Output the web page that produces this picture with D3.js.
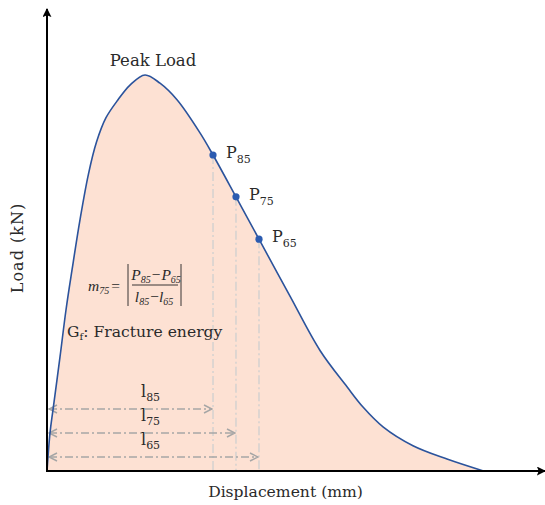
<!DOCTYPE html>
<html>
<head>
<meta charset="utf-8">
<script src="https://cdn.jsdelivr.net/npm/d3@7"></script>
<style>
  body { margin: 0; background: #fff; }
  svg { display: block; }
  text { font-family: "DejaVu Serif", "Liberation Serif", serif; fill: #2a2a2a; }
  .math text { font-family: "Liberation Serif", "DejaVu Serif", serif; font-style: italic; }
</style>
</head>
<body>
<svg width="545" height="505"></svg>
<script>
// load-displacement curve (mm, kN)
var displacement = [0, 0.067, 0.133, 0.289, 0.422, 0.556, 0.733, 0.92, 1.1, 1.311, 1.578, 1.844, 2.178,
                    2.511, 2.889, 3.4, 3.689, 4.2, 4.711, 5.4, 6.067, 6.667, 7.022, 7.467, 8.133, 8.889, 9.7];
var load = [0, 0.83, 1.33, 2.48, 3.5, 4.37, 5.46, 6.45, 7.15, 7.68, 8.07, 8.39, 8.61,
            8.43, 8.07, 7.35, 6.87, 5.96, 5.04, 3.8, 2.62, 1.83, 1.39, 0.96, 0.55, 0.26, 0.0];

// post-peak points
var pointNames = ["85", "75", "65"];
var pointDisp = [3.689, 4.2, 4.711];
var pointLoad = [6.87, 5.96, 5.04];

var svg = d3.select("svg"),
    W = +svg.attr("width"),
    H = +svg.attr("height");

var x = d3.scaleLinear().domain([0, 11]).range([47, 542]),
    y = d3.scaleLinear().domain([0, 10]).range([471, 11]);

var data = displacement.map(function(d, i) { return {d: d, p: load[i]}; });

var defs = svg.append("defs");
defs.append("marker")
    .attr("id", "axisArrow")
    .attr("viewBox", "0 0 10 10")
    .attr("refX", 9).attr("refY", 5)
    .attr("markerWidth", 9).attr("markerHeight", 9)
    .attr("markerUnits", "userSpaceOnUse")
    .attr("orient", "auto")
    .append("path")
    .attr("d", "M0,0 L10,5 L0,10 L2,5 Z")
    .attr("fill", "#000");

defs.append("marker")
    .attr("id", "dimArrow")
    .attr("viewBox", "0 0 10 10")
    .attr("refX", 9).attr("refY", 5)
    .attr("markerWidth", 10).attr("markerHeight", 10)
    .attr("markerUnits", "userSpaceOnUse")
    .attr("orient", "auto-start-reverse")
    .append("path")
    .attr("d", "M1,1 L9,5 L1,9")
    .attr("fill", "none")
    .attr("stroke", "#a6a6a6")
    .attr("stroke-width", 1.5);

var curve = d3.curveCatmullRom.alpha(0.5);

// filled area under curve
var area = d3.area()
    .curve(curve)
    .x(function(d) { return x(d.d); })
    .y0(y(0))
    .y1(function(d) { return y(d.p); });

var line = d3.line()
    .curve(curve)
    .x(function(d) { return x(d.d); })
    .y(function(d) { return y(d.p); });

svg.append("path")
    .datum(data)
    .attr("d", area)
    .attr("fill", "#fde1d3");

// vertical drop lines from P points
svg.selectAll(".drop")
    .data(pointDisp)
    .enter().append("line")
    .attr("class", "drop")
    .attr("x1", function(d) { return x(d); })
    .attr("x2", function(d) { return x(d); })
    .attr("y1", function(d, i) { return y(pointLoad[i]); })
    .attr("y2", y(0))
    .attr("stroke", "#cfcfcf")
    .attr("stroke-width", 1.3)
    .attr("stroke-dasharray", "9,3,2,3");

// dimension arrows l85, l75, l65
var dimY = [409, 433, 457];
svg.selectAll(".dim")
    .data(pointDisp)
    .enter().append("line")
    .attr("class", "dim")
    .attr("x1", x(0) + 2)
    .attr("x2", function(d) { return x(d) - 1; })
    .attr("y1", function(d, i) { return dimY[i]; })
    .attr("y2", function(d, i) { return dimY[i]; })
    .attr("stroke", "#a6a6a6")
    .attr("stroke-width", 1.5)
    .attr("stroke-dasharray", "8,3,2,3")
    .attr("marker-start", "url(#dimArrow)")
    .attr("marker-end", "url(#dimArrow)");

var dimLabels = svg.selectAll(".dimlab")
    .data(pointNames)
    .enter().append("text")
    .attr("class", "dimlab")
    .attr("x", 141)
    .attr("y", function(d, i) { return dimY[i] - 12; })
    .attr("font-size", 16);
dimLabels.append("tspan").text("l");
dimLabels.append("tspan").attr("dy", 4).attr("font-size", 11).text(function(d) { return d; });

// the curve
svg.append("path")
    .datum(data)
    .attr("d", line)
    .attr("fill", "none")
    .attr("stroke", "#2b539c")
    .attr("stroke-width", 1.6);

// axes with arrows
svg.append("line")
    .attr("x1", x(0)).attr("x2", x(0))
    .attr("y1", y(0) + 1).attr("y2", 9)
    .attr("stroke", "#000").attr("stroke-width", 2)
    .attr("marker-end", "url(#axisArrow)");
svg.append("line")
    .attr("x1", x(0) - 1).attr("x2", W)
    .attr("y1", y(0)).attr("y2", y(0))
    .attr("stroke", "#000").attr("stroke-width", 2)
    .attr("marker-end", "url(#axisArrow)");

// P points
svg.selectAll(".pt")
    .data(pointDisp)
    .enter().append("circle")
    .attr("class", "pt")
    .attr("cx", function(d) { return x(d); })
    .attr("cy", function(d, i) { return y(pointLoad[i]); })
    .attr("r", 3.6)
    .attr("fill", "#2b5bb0");

var pLabels = svg.selectAll(".plab")
    .data(pointNames)
    .enter().append("text")
    .attr("class", "plab")
    .attr("x", function(d, i) { return x(pointDisp[i]) + 13; })
    .attr("y", function(d, i) { return y(pointLoad[i]) + 3; })
    .attr("font-size", 16);
pLabels.append("tspan").text("P");
pLabels.append("tspan").attr("dy", 5).attr("font-size", 11).text(function(d) { return d; });

// Peak Load label
svg.append("text")
    .attr("x", x(displacement[load.indexOf(d3.max(load))]) + 8)
    .attr("y", y(d3.max(load)) - 9)
    .attr("text-anchor", "middle")
    .attr("font-size", 16.5)
    .text("Peak Load");

// axis titles
svg.append("text")
    .attr("x", (208 + 363) / 2)
    .attr("y", 497)
    .attr("text-anchor", "middle")
    .attr("font-size", 15.6)
    .text("Displacement (mm)");

svg.append("text")
    .attr("transform", "translate(23,248) rotate(-90)")
    .attr("text-anchor", "middle")
    .attr("font-size", 16)
    .attr("letter-spacing", 1)
    .text("Load (kN)");

// formula m75 = |(P85 - P65)/(l85 - l65)|
var f = svg.append("g").attr("class", "math").attr("font-size", 15.5);
var m = f.append("text").attr("x", 88).attr("y", 291);
m.append("tspan").text("m");
m.append("tspan").attr("dy", 3).attr("font-size", 10).text("75");
m.append("tspan").attr("dy", -3).attr("dx", 2).style("font-style", "normal").text("=");

var num = f.append("text").attr("x", 156).attr("y", 280).attr("text-anchor", "middle");
num.append("tspan").text("P");
num.append("tspan").attr("dy", 3).attr("font-size", 10).text("85");
num.append("tspan").attr("dy", -3).attr("dx", 1).style("font-style", "normal").text("\u2212");
num.append("tspan").attr("dx", 1).text("P");
num.append("tspan").attr("dy", 3).attr("font-size", 10).text("65");

var den = f.append("text").attr("x", 154).attr("y", 302).attr("text-anchor", "middle");
den.append("tspan").text("l");
den.append("tspan").attr("dy", 3).attr("font-size", 10).text("85");
den.append("tspan").attr("dy", -3).attr("dx", 1).style("font-style", "normal").text("\u2212");
den.append("tspan").text("l");
den.append("tspan").attr("dy", 3).attr("font-size", 10).text("65");

f.append("line").attr("x1", 132).attr("x2", 178).attr("y1", 285).attr("y2", 285)
    .attr("stroke", "#222").attr("stroke-width", 0.9);
[128, 181].forEach(function(bx) {
  f.append("line").attr("x1", bx).attr("x2", bx).attr("y1", 264).attr("y2", 306)
      .attr("stroke", "#222").attr("stroke-width", 0.9);
});

// fracture energy label
var g = svg.append("text").attr("x", 67).attr("y", 337).attr("font-size", 15.6);
g.append("tspan").text("G");
g.append("tspan").attr("dy", 3).attr("font-size", 10).text("f");
g.append("tspan").attr("dy", -3).text(": Fracture energy");
</script>
</body>
</html>
